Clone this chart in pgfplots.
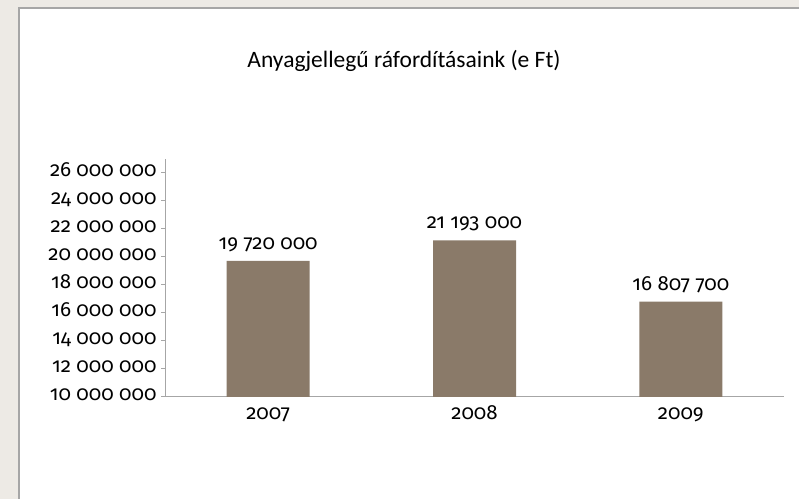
\documentclass[border=0pt]{standalone}
\usepackage{pgfplots}
\pgfplotsset{compat=1.18}
\usepackage{fontspec}
\setmainfont{Carlito}
\newfontfamily\numfont[Numbers=OldStyle]{Fira Sans}
\definecolor{bg}{HTML}{EDEAE5}
\definecolor{barc}{HTML}{8A7A69}
\definecolor{axc}{HTML}{A6A6A6}
\begin{document}
\begin{tikzpicture}[x=1bp,y=1bp]
\useasboundingbox (0,0) rectangle (799,499);
\fill[bg] (0,0) rectangle (799,499);
\fill[white] (19,0) rectangle (799,491);
\draw[axc, line width=1.2bp] (19,-2) -- (19,491) -- (801,491);
\node[font=\fontsize{23.5bp}{28bp}\selectfont] at (404,438) {Anyagjellegű ráfordításaink (e Ft)};
\begin{axis}[
  at={(165bp,102bp)}, anchor=south west,
  scale only axis, width=619bp, height=238bp,
  xmin=-0.5, xmax=2.5, ymin=10000000, ymax=27000000,
  axis x line*=bottom, axis y line*=left,
  axis line style={axc, line width=1bp, -},
  xtick={0,1,2}, xticklabels={2007,2008,2009},
  x tick style={draw=none},
  extra x ticks={-0.5,0.5,1.5,2.5}, extra x tick labels={},
  extra x tick style={tick style={axc, line width=1bp, draw=axc}, major tick length=5bp},
  ytick={10000000,12000000,14000000,16000000,18000000,20000000,22000000,24000000,26000000},
  yticklabels={10 000 000,12 000 000,14 000 000,16 000 000,18 000 000,20 000 000,22 000 000,24 000 000,26 000 000},
  y tick style={axc, line width=1bp},
  major tick length=4bp, tick align=outside,
  ticklabel style={font=\numfont\fontsize{20.5bp}{24bp}\selectfont, text=black, text height=11bp, text depth=4bp},
  yticklabel style={xshift=-1bp},
  xticklabel style={yshift=-4bp},
  scaled y ticks=false,
  ybar, bar width=83bp,
  nodes near coords, point meta=explicit symbolic,
  nodes near coords style={font=\numfont\fontsize{20.5bp}{24bp}\selectfont, text=black, text height=11bp, text depth=4bp, yshift=4bp},
]
\addplot[fill=barc, draw=none] coordinates {(0,19720000) [19 720 000] (1,21193000) [21 193 000] (2,16807700) [16 807 700]};
\end{axis}
\end{tikzpicture}
\end{document}
